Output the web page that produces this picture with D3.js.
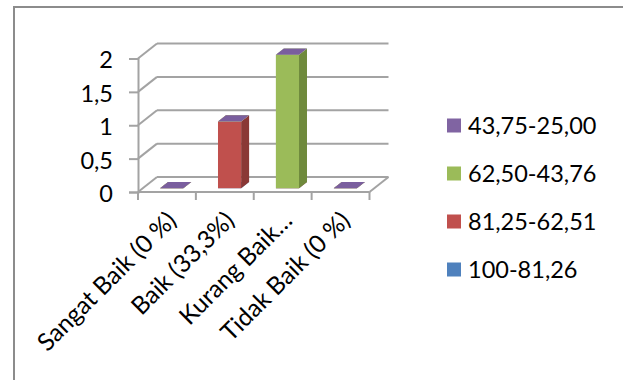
<!DOCTYPE html>
<html>
<head>
<meta charset="utf-8">
<script src="https://cdn.jsdelivr.net/npm/d3@7"></script>
<style>
  html, body { margin: 0; padding: 0; background: #fff; }
  svg { display: block; }
  text { font-family: Lato, "Open Sans", sans-serif; fill: #000; }
</style>
</head>
<body>
<svg id="chart" width="623" height="380"></svg>
<script>
// Categories along the floor of the 3-D column chart
const categories = ["Sangat Baik (0 %)", "Baik (33,3%)", "Kurang Baik (66,7%)", "Tidak Baik (0 %)"];
const categoryLabels = ["Sangat Baik (0 %)", "Baik (33,3%)", "Kurang Baik…", "Tidak Baik (0 %)"];

// Score ranges (series), stacked bottom to top
const seriesNames = ["100-81,26", "81,25-62,51", "62,50-43,76", "43,75-25,00"];
const values100to81 = [0, 0, 0, 0];
const values81to62 = [0, 1, 0, 0];
const values62to43 = [0, 0, 2, 0];
const values43to25 = [0, 0, 0, 0];
const seriesValues = [values100to81, values81to62, values62to43, values43to25];

const yTicks = [0, 0.5, 1, 1.5, 2];

// Face colours per series: front, side, top
const faceColors = [
  { front: "#4F81BD", side: "#385D8A", top: "#6A93C9" },
  { front: "#C0504D", side: "#8A3835", top: "#D06A67" },
  { front: "#9BBB59", side: "#6F8A3C", top: "#B0CB78" },
  { front: "#8064A2", side: "#5E4A7A", top: "#7A5E9E" }
];

const rows = categories.map((c, i) => {
  const r = { category: c };
  seriesNames.forEach((s, j) => { r[s] = seriesValues[j][i]; });
  return r;
});
const stacked = d3.stack().keys(seriesNames)(rows);

const svg = d3.select("#chart");

// Chart-area frame
svg.append("rect")
  .attr("x", 14).attr("y", 7).attr("width", 620).attr("height", 390)
  .attr("fill", "none").attr("stroke", "#8c8c8c").attr("stroke-width", 2);

// Scales on the front plane
const x = d3.scaleBand().domain(categories).range([138, 369.5]).paddingInner(0).paddingOuter(0);
const y = d3.scaleLinear().domain([0, 2]).range([192, 58.5]);

// Full wall depth and bar depth projection
const wallDX = 19, wallDY = -15;
const barOffset = 0.25, barDepth = 0.42;
const barW = x.bandwidth() * 0.40;

const gridColor = "#a3a3a3";
const grid = svg.append("g").attr("stroke", gridColor).attr("stroke-width", 2).attr("fill", "none");

// Side wall diagonals and back wall gridlines
yTicks.forEach(v => {
  const yy = y(v);
  grid.append("line").attr("x1", x.range()[0]).attr("y1", yy)
    .attr("x2", x.range()[0] + wallDX).attr("y2", yy + wallDY);
  grid.append("line").attr("x1", x.range()[0] + wallDX).attr("y1", yy + wallDY)
    .attr("x2", x.range()[1] + wallDX).attr("y2", yy + wallDY);
});
// Floor right edge
grid.append("line").attr("x1", x.range()[1]).attr("y1", y(0))
  .attr("x2", x.range()[1] + wallDX).attr("y2", y(0) + wallDY);

// Value axis
const yAxis = d3.axisLeft(y).tickValues(yTicks).tickSize(9).tickPadding(16)
  .tickFormat(d => String(d).replace(".", ","));
const yg = svg.append("g").attr("transform", `translate(${x.range()[0]},0)`).call(yAxis);
yg.select(".domain").attr("stroke", gridColor).attr("stroke-width", 2);
yg.selectAll(".tick line").attr("stroke", gridColor).attr("stroke-width", 2);
yg.selectAll(".tick text").attr("font-size", 23.5).attr("font-family", "Lato, sans-serif")
  .attr("fill", "#000").attr("dy", "0.4em");

// Category axis with boundary ticks
const xg = svg.append("g");
xg.append("line").attr("x1", x.range()[0]).attr("x2", x.range()[1])
  .attr("y1", y(0)).attr("y2", y(0)).attr("stroke", gridColor).attr("stroke-width", 2);
const bounds = categories.map(c => x(c)).concat([x.range()[1]]);
xg.selectAll("line.ct").data(bounds).join("line").attr("class", "ct")
  .attr("x1", d => d).attr("x2", d => d).attr("y1", y(0)).attr("y2", y(0) + 8)
  .attr("stroke", gridColor).attr("stroke-width", 2);
xg.selectAll("text").data(categories).join("text")
  .attr("transform", (d, i) => `translate(${x(d) + x.bandwidth() / 2 + 11},${y(0) + 30}) rotate(-45)`)
  .attr("text-anchor", "end")
  .attr("font-size", 24.5)
  .text((d, i) => categoryLabels[i]);

// 3-D stacked columns
const bars = svg.append("g");
const ox = wallDX * barOffset, oy = wallDY * barOffset;
const ddx = wallDX * barDepth, ddy = wallDY * barDepth;
categories.forEach((c, ci) => {
  stacked.forEach((layer, si) => {
    const seg = layer[ci];
    const x0 = x(c) + (x.bandwidth() - barW) / 2 + ox;
    const x1 = x0 + barW;
    const yb = y(seg[0]) + oy, yt = y(seg[1]) + oy;
    const col = faceColors[si];
    if (yb - yt > 0.01) {
      bars.append("rect").attr("x", x0).attr("y", yt).attr("width", barW).attr("height", yb - yt)
        .attr("fill", col.front);
      bars.append("path")
        .attr("d", `M${x1},${yt}L${x1 + ddx},${yt + ddy}L${x1 + ddx},${yb + ddy}L${x1},${yb}Z`)
        .attr("fill", col.side);
    }
    bars.append("path")
      .attr("d", `M${x0},${yt}L${x1},${yt}L${x1 + ddx},${yt + ddy}L${x0 + ddx},${yt + ddy}Z`)
      .attr("fill", col.top);
  });
});

// Legend, top series first
const legendItems = seriesNames.map((s, i) => ({ name: s, color: faceColors[i].front })).reverse();
const lg = svg.append("g");
const legendY = d3.scalePoint().domain(legendItems.map(d => d.name)).range([125.5, 269.5]);
legendItems.forEach(d => {
  const cy = legendY(d.name);
  lg.append("rect").attr("x", 447).attr("y", cy - 7).attr("width", 14).attr("height", 14).attr("fill", d.color);
  lg.append("text").attr("x", 468).attr("y", cy).attr("dy", "0.36em")
    .attr("font-size", 23.5).text(d.name);
});
</script>
</body>
</html>
